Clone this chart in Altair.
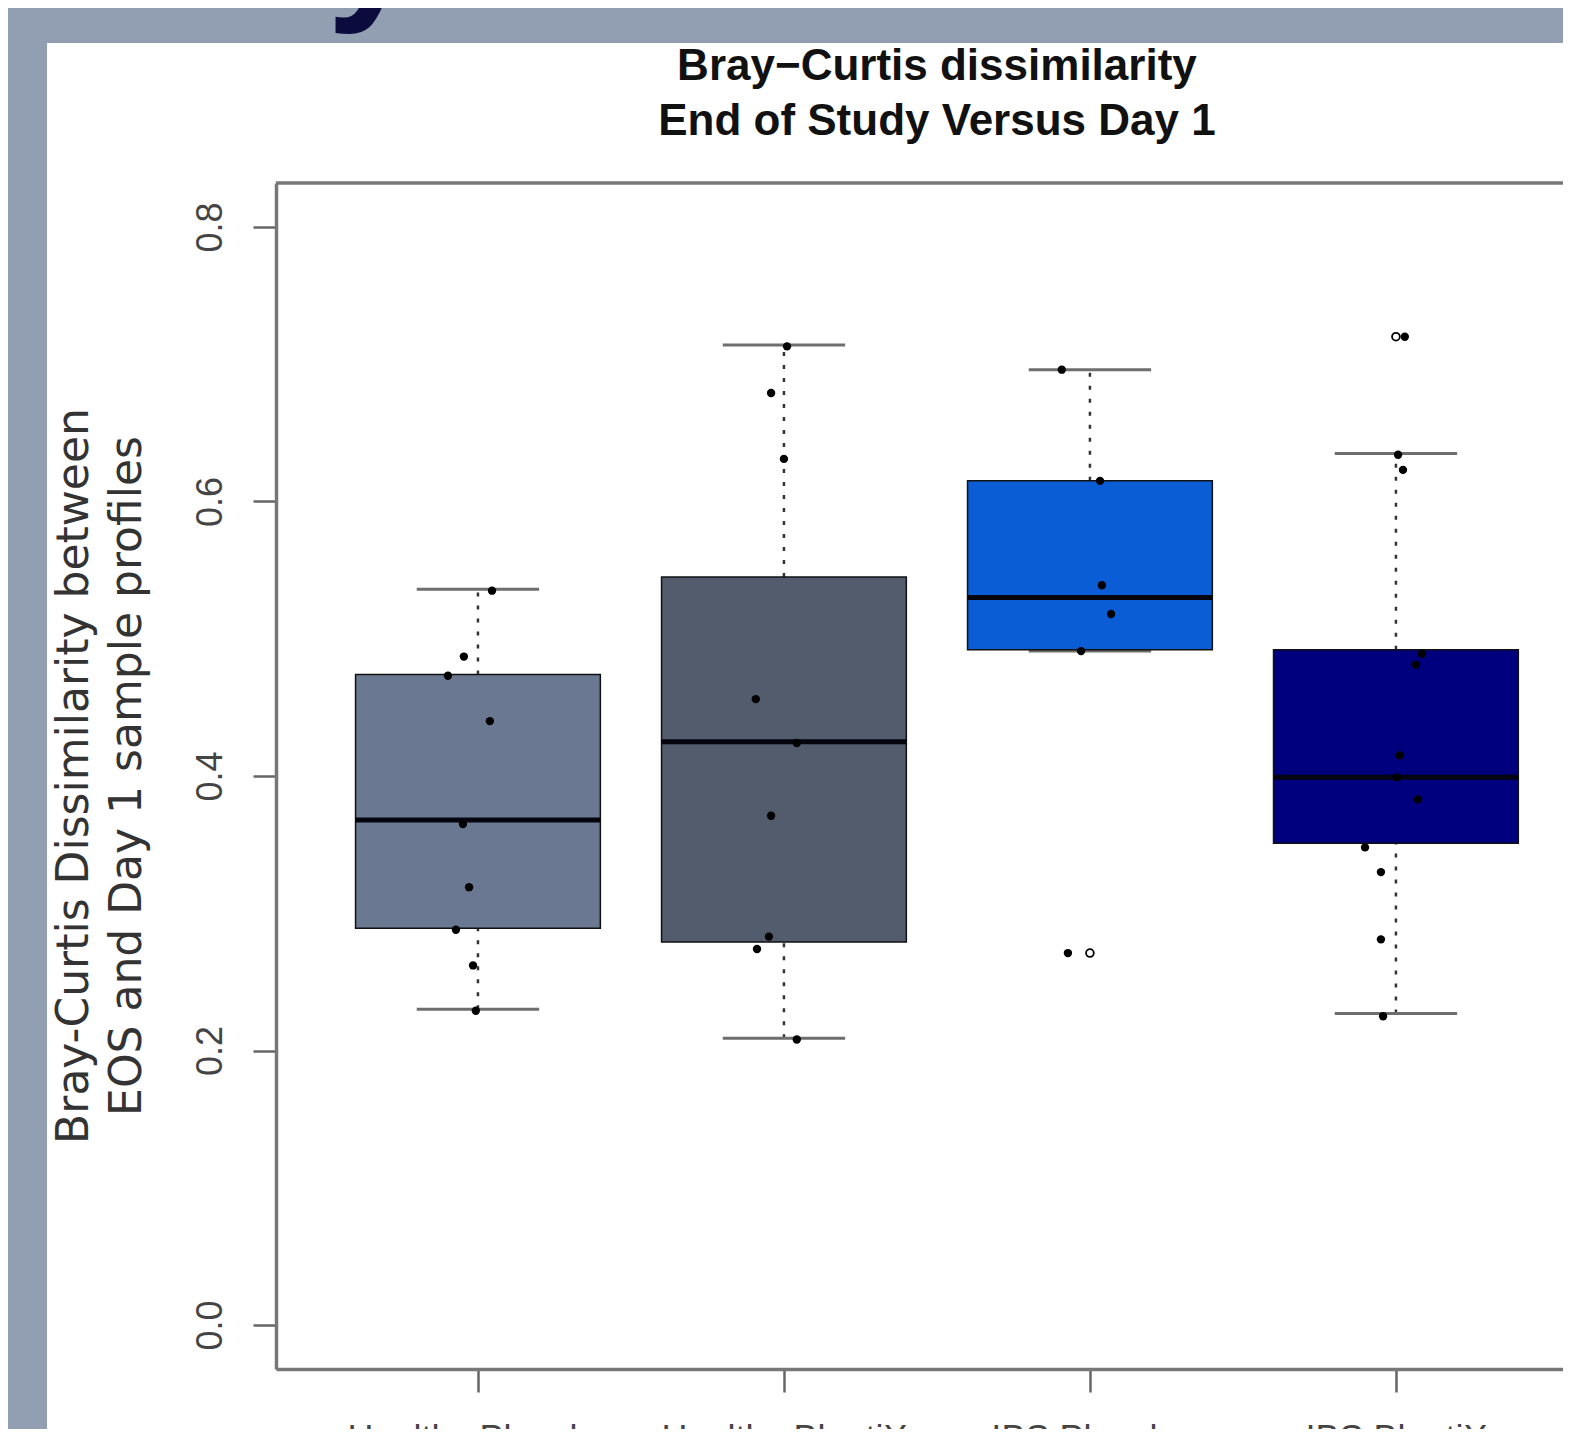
import json
import altair as alt
import pandas as pd

# ---------------- data ----------------
groups = ["Healthy Placebo", "Healthy BlautiX", "IBS Placebo", "IBS BlautiX"]
positions = [1, 2, 3, 4]
box_colors = ["#6b7891", "#525c6c", "#0b5dd6", "#00007e"]

whisker_low = [0.230, 0.209, 0.491, 0.227]
q1 = [0.289, 0.279, 0.492, 0.351]
median = [0.368, 0.425, 0.530, 0.399]
q3 = [0.474, 0.545, 0.615, 0.492]
whisker_high = [0.536, 0.714, 0.696, 0.635]

hp_values = [0.535, 0.487, 0.473, 0.440, 0.365, 0.319, 0.288, 0.262, 0.229]
hp_jitter = [0.046, -0.046, -0.098, 0.039, -0.049, -0.029, -0.072, -0.016, -0.007]
hb_values = [0.713, 0.679, 0.631, 0.456, 0.424, 0.371, 0.283, 0.274, 0.208]
hb_jitter = [0.010, -0.042, 0.000, -0.092, 0.042, -0.042, -0.049, -0.088, 0.042]
ip_values = [0.696, 0.615, 0.539, 0.518, 0.491, 0.271]
ip_jitter = [-0.092, 0.033, 0.039, 0.069, -0.029, -0.072]
ib_values = [0.720, 0.634, 0.623, 0.489, 0.481, 0.415, 0.399, 0.383, 0.348, 0.330, 0.281, 0.225]
ib_jitter = [0.029, 0.007, 0.023, 0.085, 0.065, 0.013, 0.003, 0.072, -0.101, -0.049, -0.049, -0.042]

outlier_pos = [3, 4]
outlier_values = [0.271, 0.720]

y_ticks = [0.0, 0.2, 0.4, 0.6, 0.8]
title_lines = ["Bray\u2212Curtis dissimilarity", "End of Study Versus Day 1"]
ytitle_lines = ["Bray-Curtis Dissimilarity between", "EOS and Day 1 sample profiles"]

# ---------------- tables ----------------
box_df = pd.DataFrame({
    "group": groups, "pos": positions, "lo": whisker_low, "q1": q1,
    "med": median, "q3": q3, "hi": whisker_high, "color": box_colors,
})
rows = []
for g, p, vals, jit in zip(groups, positions,
                           [hp_values, hb_values, ip_values, ib_values],
                           [hp_jitter, hb_jitter, ip_jitter, ib_jitter]):
    for v, j in zip(vals, jit):
        rows.append({"group": g, "pos": p, "jit": j, "value": v})
pts_df = pd.DataFrame(rows)
out_df = pd.DataFrame({"pos": outlier_pos, "value": outlier_values})
dummy = pd.DataFrame({"a": [0]})

# ---------------- layout ----------------
W, H = 1287, 1186
XMIN, XMAX = 0.34, 4.546
YMIN, YMAX = -0.032, 0.832
FONT = "Liberation Sans"

xs = alt.Scale(domain=[XMIN, XMAX], nice=False, zero=False)
ys = alt.Scale(domain=[YMIN, YMAX], nice=False, zero=False)

x_axis = alt.Axis(
    title=None, values=positions, grid=False, zindex=2,
    labelExpr=json.dumps(groups) + "[datum.value - 1]",
    labelFont=FONT, labelFontSize=36, labelColor="#444", labelLimit=0,
    labelBaseline="top", labelAlign="center", labelPadding=30,
    tickSize=23, tickWidth=2.5, tickColor="#666",
    domainColor="#777", domainWidth=3.5, labelFlush=False, labelOverlap=False,
)
y_axis = alt.Axis(
    title=None, values=y_ticks, format=".1f", grid=False, zindex=2,
    labelFont=FONT, labelFontSize=36, labelColor="#444", labelLimit=0,
    labelAngle=270, labelAlign="center", labelBaseline="alphabetic",
    labelPadding=32, tickSize=23, tickWidth=2.5, tickColor="#666",
    domainColor="#777", domainWidth=3.5, labelFlush=False, labelOverlap=False,
)


def X(f):
    return alt.X(f, type="quantitative", scale=xs, axis=x_axis)


def Y(f):
    return alt.Y(f, type="quantitative", scale=ys, axis=y_axis)


panel = alt.Chart(dummy).mark_rect(color="white").encode(
    x=alt.value(-229), x2=alt.value(W + 20), y=alt.value(-140), y2=alt.value(H + 200)
)

slide_glyph = alt.Chart(dummy).mark_text(
    text="y", font=FONT, fontSize=165, fontWeight="bold", color="#0b0b3d",
    align="left", baseline="alphabetic",
).encode(x=alt.value(51), y=alt.value(-183))

top_frame = alt.Chart(dummy).mark_rule(color="#777", strokeWidth=3.5).encode(
    x=alt.value(0), x2=alt.value(W), y=alt.datum(YMAX)
)

base = alt.Chart(box_df)

whisk_up = base.mark_rule(color="#333", strokeWidth=2.5, strokeDash=[4, 9]).encode(
    x=X("pos"), y=Y("q3"), y2="hi:Q"
)
whisk_lo = base.mark_rule(color="#333", strokeWidth=2.5, strokeDash=[4, 9]).encode(
    x=X("pos"), y=Y("lo"), y2="q1:Q"
)
caps_base = base.transform_calculate(c1="datum.pos - 0.2", c2="datum.pos + 0.2")
cap_hi = caps_base.mark_rule(color="#6e6e6e", strokeWidth=3).encode(
    x=X("c1"), x2="c2:Q", y=Y("hi")
)
cap_lo = caps_base.mark_rule(color="#6e6e6e", strokeWidth=3).encode(
    x=X("c1"), x2="c2:Q", y=Y("lo")
)
box_base = base.transform_calculate(b1="datum.pos - 0.4", b2="datum.pos + 0.4")
boxes = box_base.mark_rect(stroke="#111", strokeWidth=1.5).encode(
    x=X("b1"), x2="b2:Q", y=Y("q1"), y2="q3:Q",
    fill=alt.Fill("color:N", scale=None),
)
medians = box_base.mark_rule(color="#050510", strokeWidth=5).encode(
    x=X("b1"), x2="b2:Q", y=Y("med")
)

points = alt.Chart(pts_df).transform_calculate(px="datum.pos + datum.jit").mark_circle(
    color="black", size=70, opacity=1
).encode(x=X("px"), y=Y("value"))

outliers = alt.Chart(out_df).mark_point(
    shape="circle", filled=False, color="black", strokeWidth=1.8, size=60, opacity=1
).encode(x=X("pos"), y=Y("value"))

title = alt.Chart(dummy).mark_text(
    text=title_lines, font=FONT, fontSize=44, fontWeight="bold", lineHeight=55,
    align="center", baseline="alphabetic", color="#111",
).encode(x=alt.datum(2.5), y=alt.datum(0.907))

ytitle = alt.Chart(dummy).mark_text(
    text=ytitle_lines, font="DejaVu Sans", fontSize=44, lineHeight=53, angle=270,
    align="center", baseline="alphabetic", color="#333",
).encode(x=alt.datum(-0.274), y=alt.datum(0.4))

chart = alt.layer(
    panel, slide_glyph, top_frame, whisk_up, whisk_lo, cap_hi, cap_lo,
    boxes, medians, points, outliers, title, ytitle,
).properties(
    width=W, height=H,
    autosize=alt.AutoSizeParams(type="none"),
    padding={"left": 268, "top": 175, "right": 0, "bottom": 60},
    background="#929fb3",
).configure_view(stroke=None)

chart.save("out.html", embed_options={"renderer": "svg", "actions": False})
